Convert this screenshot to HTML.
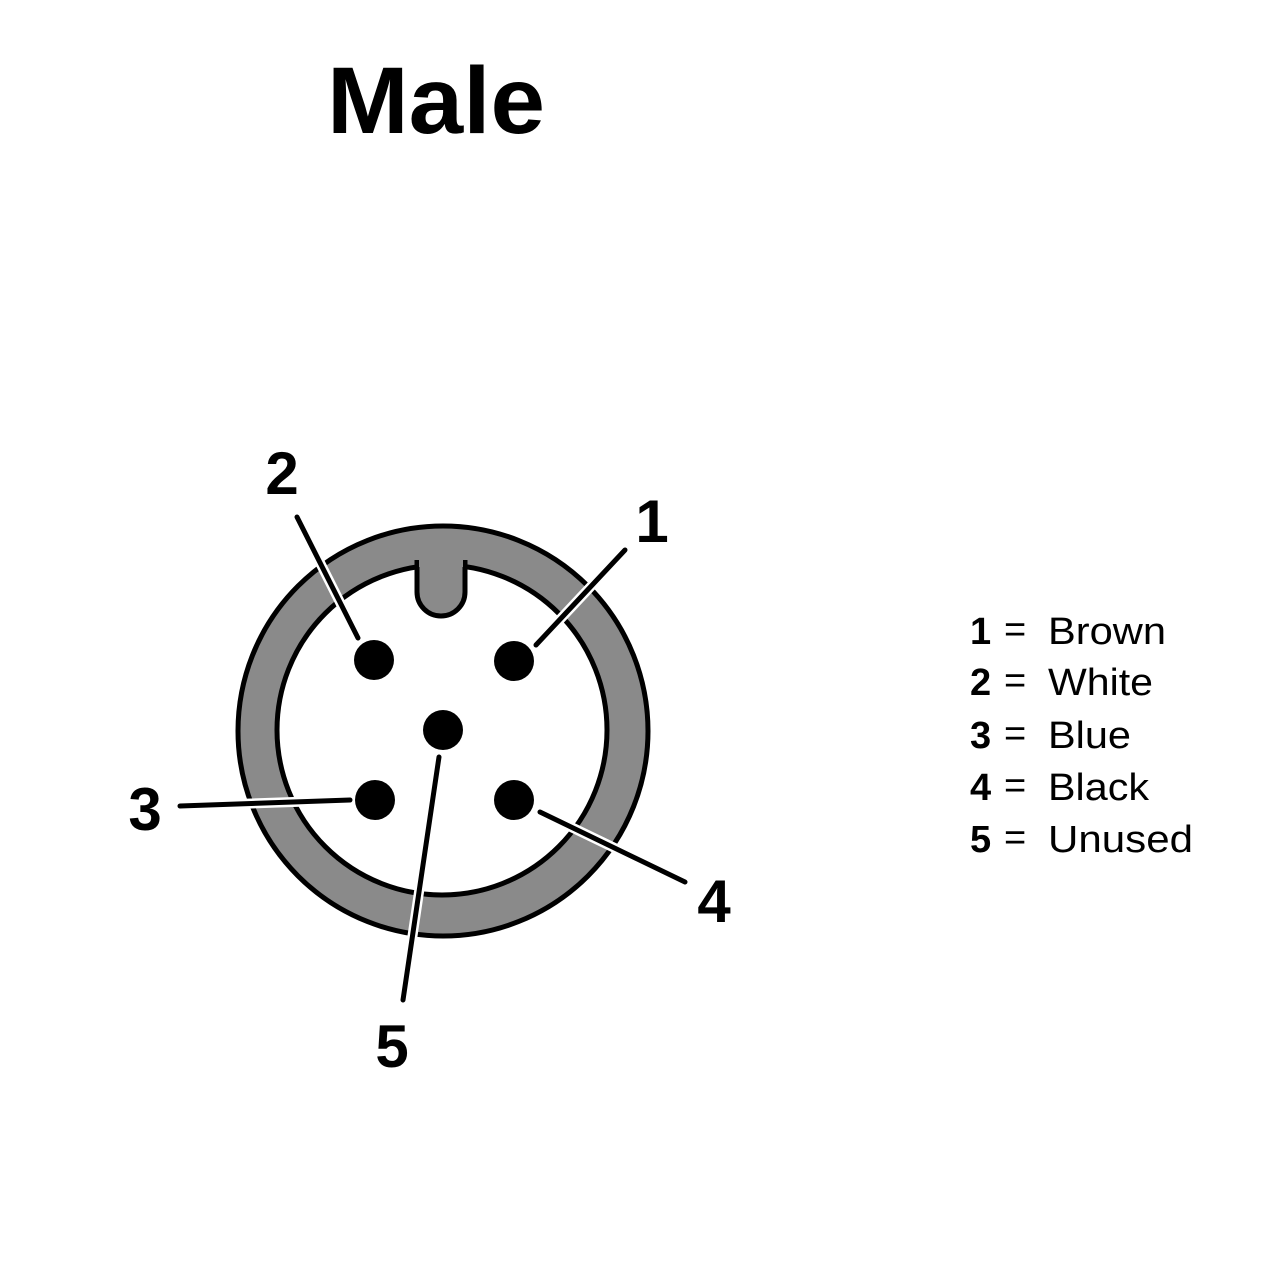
<!DOCTYPE html>
<html><head><meta charset="utf-8"><style>
html,body{margin:0;padding:0;background:#fff;}
svg{display:block;}
text{font-family:"Liberation Sans",sans-serif;}
</style></head><body>
<svg width="1280" height="1280" viewBox="0 0 1280 1280" xmlns="http://www.w3.org/2000/svg">
<rect width="1280" height="1280" fill="#fff"/>
<text x="327" y="133" font-size="95" font-weight="bold" fill="#000" textLength="218" lengthAdjust="spacingAndGlyphs">Male</text>
<circle cx="443" cy="731" r="205" fill="#8a8a8a" stroke="#000" stroke-width="5"/>
<circle cx="442" cy="730" r="165" fill="#fff" stroke="#000" stroke-width="5"/>
<path d="M417 560 L417 592 A24 24 0 0 0 465 592 L465 560" fill="#8a8a8a" stroke="#000" stroke-width="5"/>
<rect x="419" y="555" width="44" height="12" fill="#8a8a8a"/>
<g fill="#000">
<circle cx="374" cy="660" r="20"/>
<circle cx="514" cy="661" r="20"/>
<circle cx="443" cy="730" r="20"/>
<circle cx="375" cy="800" r="20"/>
<circle cx="514" cy="800" r="20"/>
</g>
<g stroke-linecap="round">
<g stroke="#fff" stroke-width="10">
<line x1="625" y1="550" x2="536" y2="645"/>
<line x1="297" y1="517" x2="358" y2="638"/>
<line x1="180" y1="806" x2="350" y2="800"/>
<line x1="540" y1="812" x2="685" y2="882"/>
<line x1="439" y1="757" x2="403" y2="1000"/>
</g>
<g stroke="#000" stroke-width="5">
<line x1="625" y1="550" x2="536" y2="645"/>
<line x1="297" y1="517" x2="358" y2="638"/>
<line x1="180" y1="806" x2="350" y2="800"/>
<line x1="540" y1="812" x2="685" y2="882"/>
<line x1="439" y1="757" x2="403" y2="1000"/>
</g>
</g>
<g font-size="60" font-weight="bold" fill="#000" text-anchor="middle">
<text x="282" y="494">2</text>
<text x="652" y="542">1</text>
<text x="145" y="830">3</text>
<text x="714" y="922">4</text>
<text x="392" y="1067">5</text>
</g>
<g font-size="38" fill="#000">
<text x="970" y="644" font-weight="bold">1</text>
<text x="970" y="695" font-weight="bold">2</text>
<text x="970" y="748" font-weight="bold">3</text>
<text x="970" y="800" font-weight="bold">4</text>
<text x="970" y="852" font-weight="bold">5</text>
<text x="1004" y="642">=</text>
<text x="1004" y="693">=</text>
<text x="1004" y="746">=</text>
<text x="1004" y="798">=</text>
<text x="1004" y="850">=</text>
<text x="1048" y="644" textLength="118" lengthAdjust="spacingAndGlyphs">Brown</text>
<text x="1048" y="695" textLength="105" lengthAdjust="spacingAndGlyphs">White</text>
<text x="1048" y="748" textLength="83" lengthAdjust="spacingAndGlyphs">Blue</text>
<text x="1048" y="800" textLength="101" lengthAdjust="spacingAndGlyphs">Black</text>
<text x="1048" y="852" textLength="145" lengthAdjust="spacingAndGlyphs">Unused</text>
</g>
</svg>
</body></html>
